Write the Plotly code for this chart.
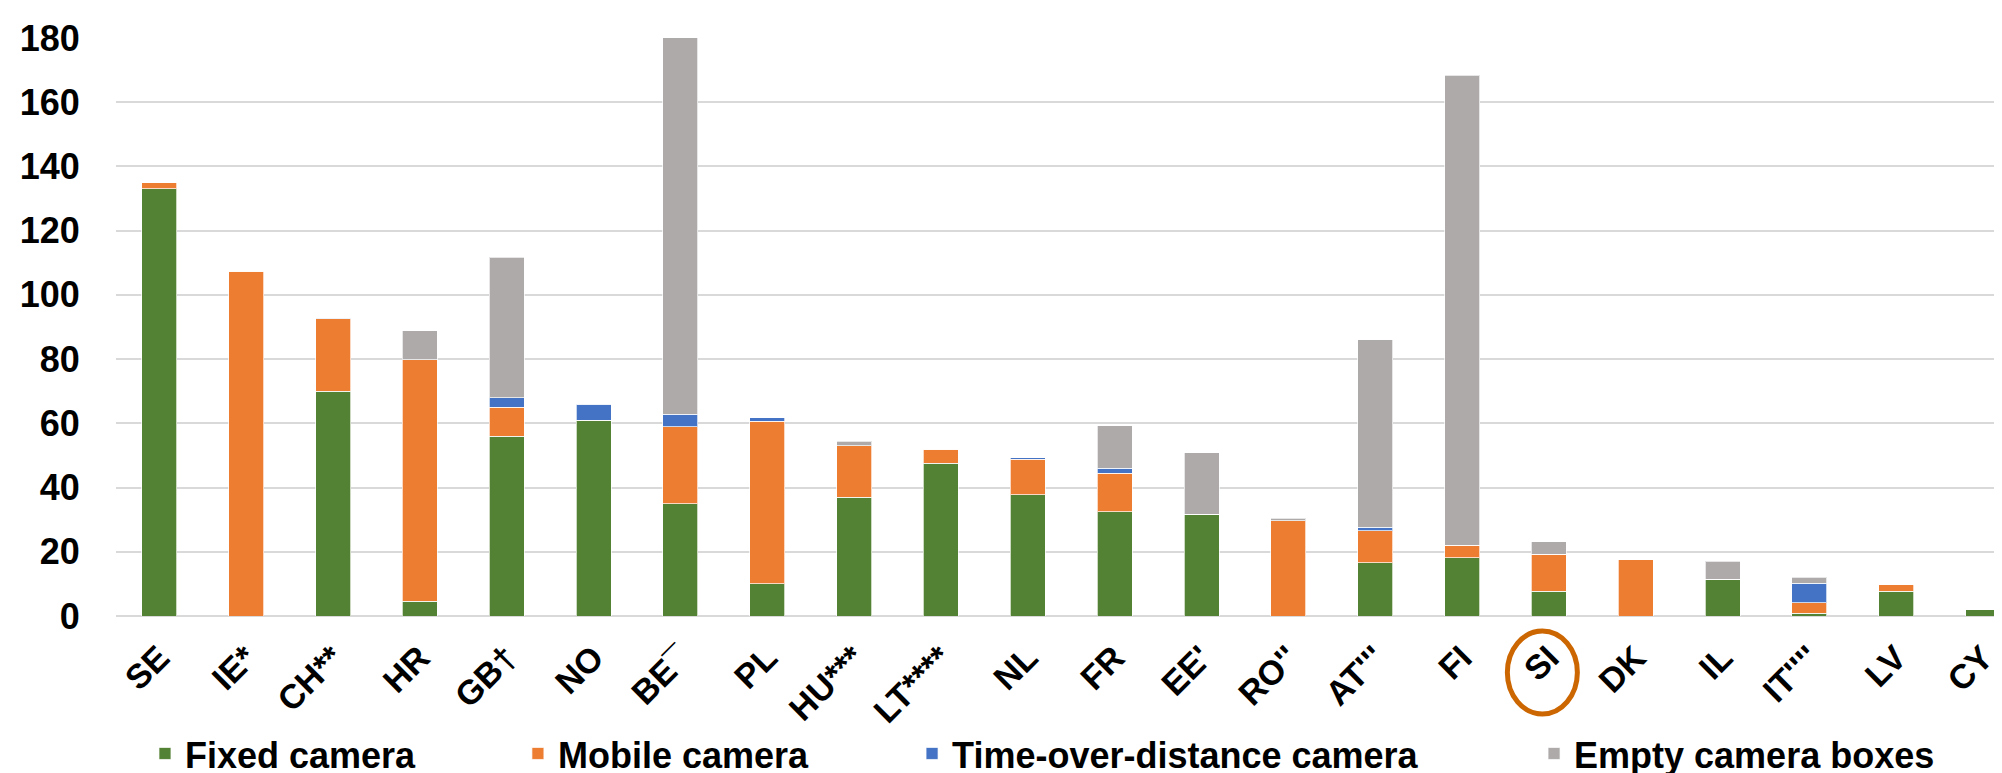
import plotly.graph_objects as go

categories = ["SE", "IE*", "CH**", "HR", "GB†", "NO", "BE¯", "PL", "HU***", "LT****",
              "NL", "FR", "EE'", "RO''", "AT'''", "FI", "SI", "DK", "IL", "IT''''", "LV", "CY"]
fixed_camera = [133, 0, 70, 4.6, 56, 61, 35, 10.1, 37, 47.5, 37.8, 32.5, 31.7, 0, 16.6, 18.2, 7.7, 0, 11.4, 0.8, 7.7, 2.0]
mobile_camera = [2, 107.3, 22.5, 75.2, 9, 0, 24, 50.6, 16, 4.5, 11, 12, 0, 29.7, 9.9, 3.9, 11.5, 17.5, 0, 3.4, 2.1, 0]
tod_camera = [0, 0, 0.3, 0, 3, 5, 3.8, 1, 0, 0, 0.5, 1.5, 0, 0, 1.2, 0, 0, 0, 0, 6.0, 0, 0]
empty_boxes = [0, 0, 0, 9, 43.7, 0, 140, 0, 1.4, 0, 0, 13.3, 19.2, 0.8, 58.4, 146.3, 3.9, 0, 5.7, 1.9, 0, 0]

series = [
    ("Fixed camera", fixed_camera, "#548235", "legend"),
    ("Mobile camera", mobile_camera, "#ED7D31", "legend2"),
    ("Time-over-distance camera", tod_camera, "#4472C4", "legend3"),
    ("Empty camera boxes", empty_boxes, "#AEAAAA", "legend4"),
]

FONT = "Arial, Liberation Sans, Helvetica, sans-serif"

fig = go.Figure()
for name, vals, color, lg in series:
    fig.add_trace(go.Bar(
        x=categories, y=vals, name=name,
        marker=dict(color=color, line=dict(color="rgba(255,255,255,0.7)", width=1)),
        legend=lg, showlegend=True,
    ))

leg_common = dict(orientation="h", yanchor="middle", y=-0.238, xanchor="left",
                  visible=True,
                  font=dict(family=FONT, size=36, color="black", weight="bold"),
                  bgcolor="rgba(0,0,0,0)", borderwidth=0)

fig.update_layout(
    width=2002, height=773,
    showlegend=True,
    barmode="stack", bargap=0.597,
    paper_bgcolor="white", plot_bgcolor="white",
    margin=dict(l=108, r=0, t=30, b=165, autoexpand=False),
    font=dict(family=FONT, color="black"),
    legend=dict(x=0.0153, **leg_common),
    legend2=dict(x=0.2122, **leg_common),
    legend3=dict(x=0.4203, **leg_common),
    legend4=dict(x=0.7487, **leg_common),
    xaxis=dict(
        type="category", categoryorder="array", categoryarray=categories,
        range=[-0.5, 21.31], tickangle=-45, showgrid=False, showline=False,
        zeroline=False, automargin=False,
        tickfont=dict(family=FONT, size=34, color="black", weight="bold"),
        ticklabelstandoff=14,
    ),
    yaxis=dict(
        range=[0, 180], dtick=20, showgrid=True, gridcolor="#D9D9D9", gridwidth=1.5,
        zeroline=True, zerolinecolor="#D9D9D9", zerolinewidth=2, showline=False,
        ticks="outside", ticklen=28, tickcolor="rgba(0,0,0,0)",
        tickfont=dict(family=FONT, size=36, color="black", weight="bold"),
    ),
    shapes=[dict(
        type="circle", xref="x", yref="paper",
        x0=categories.index("SI") - 0.478, x1=categories.index("SI") + 0.328,
        y0=-0.026, y1=-0.1696,
        line=dict(color="#CC6600", width=5),
    )],
)

fig.write_html("out.html")
